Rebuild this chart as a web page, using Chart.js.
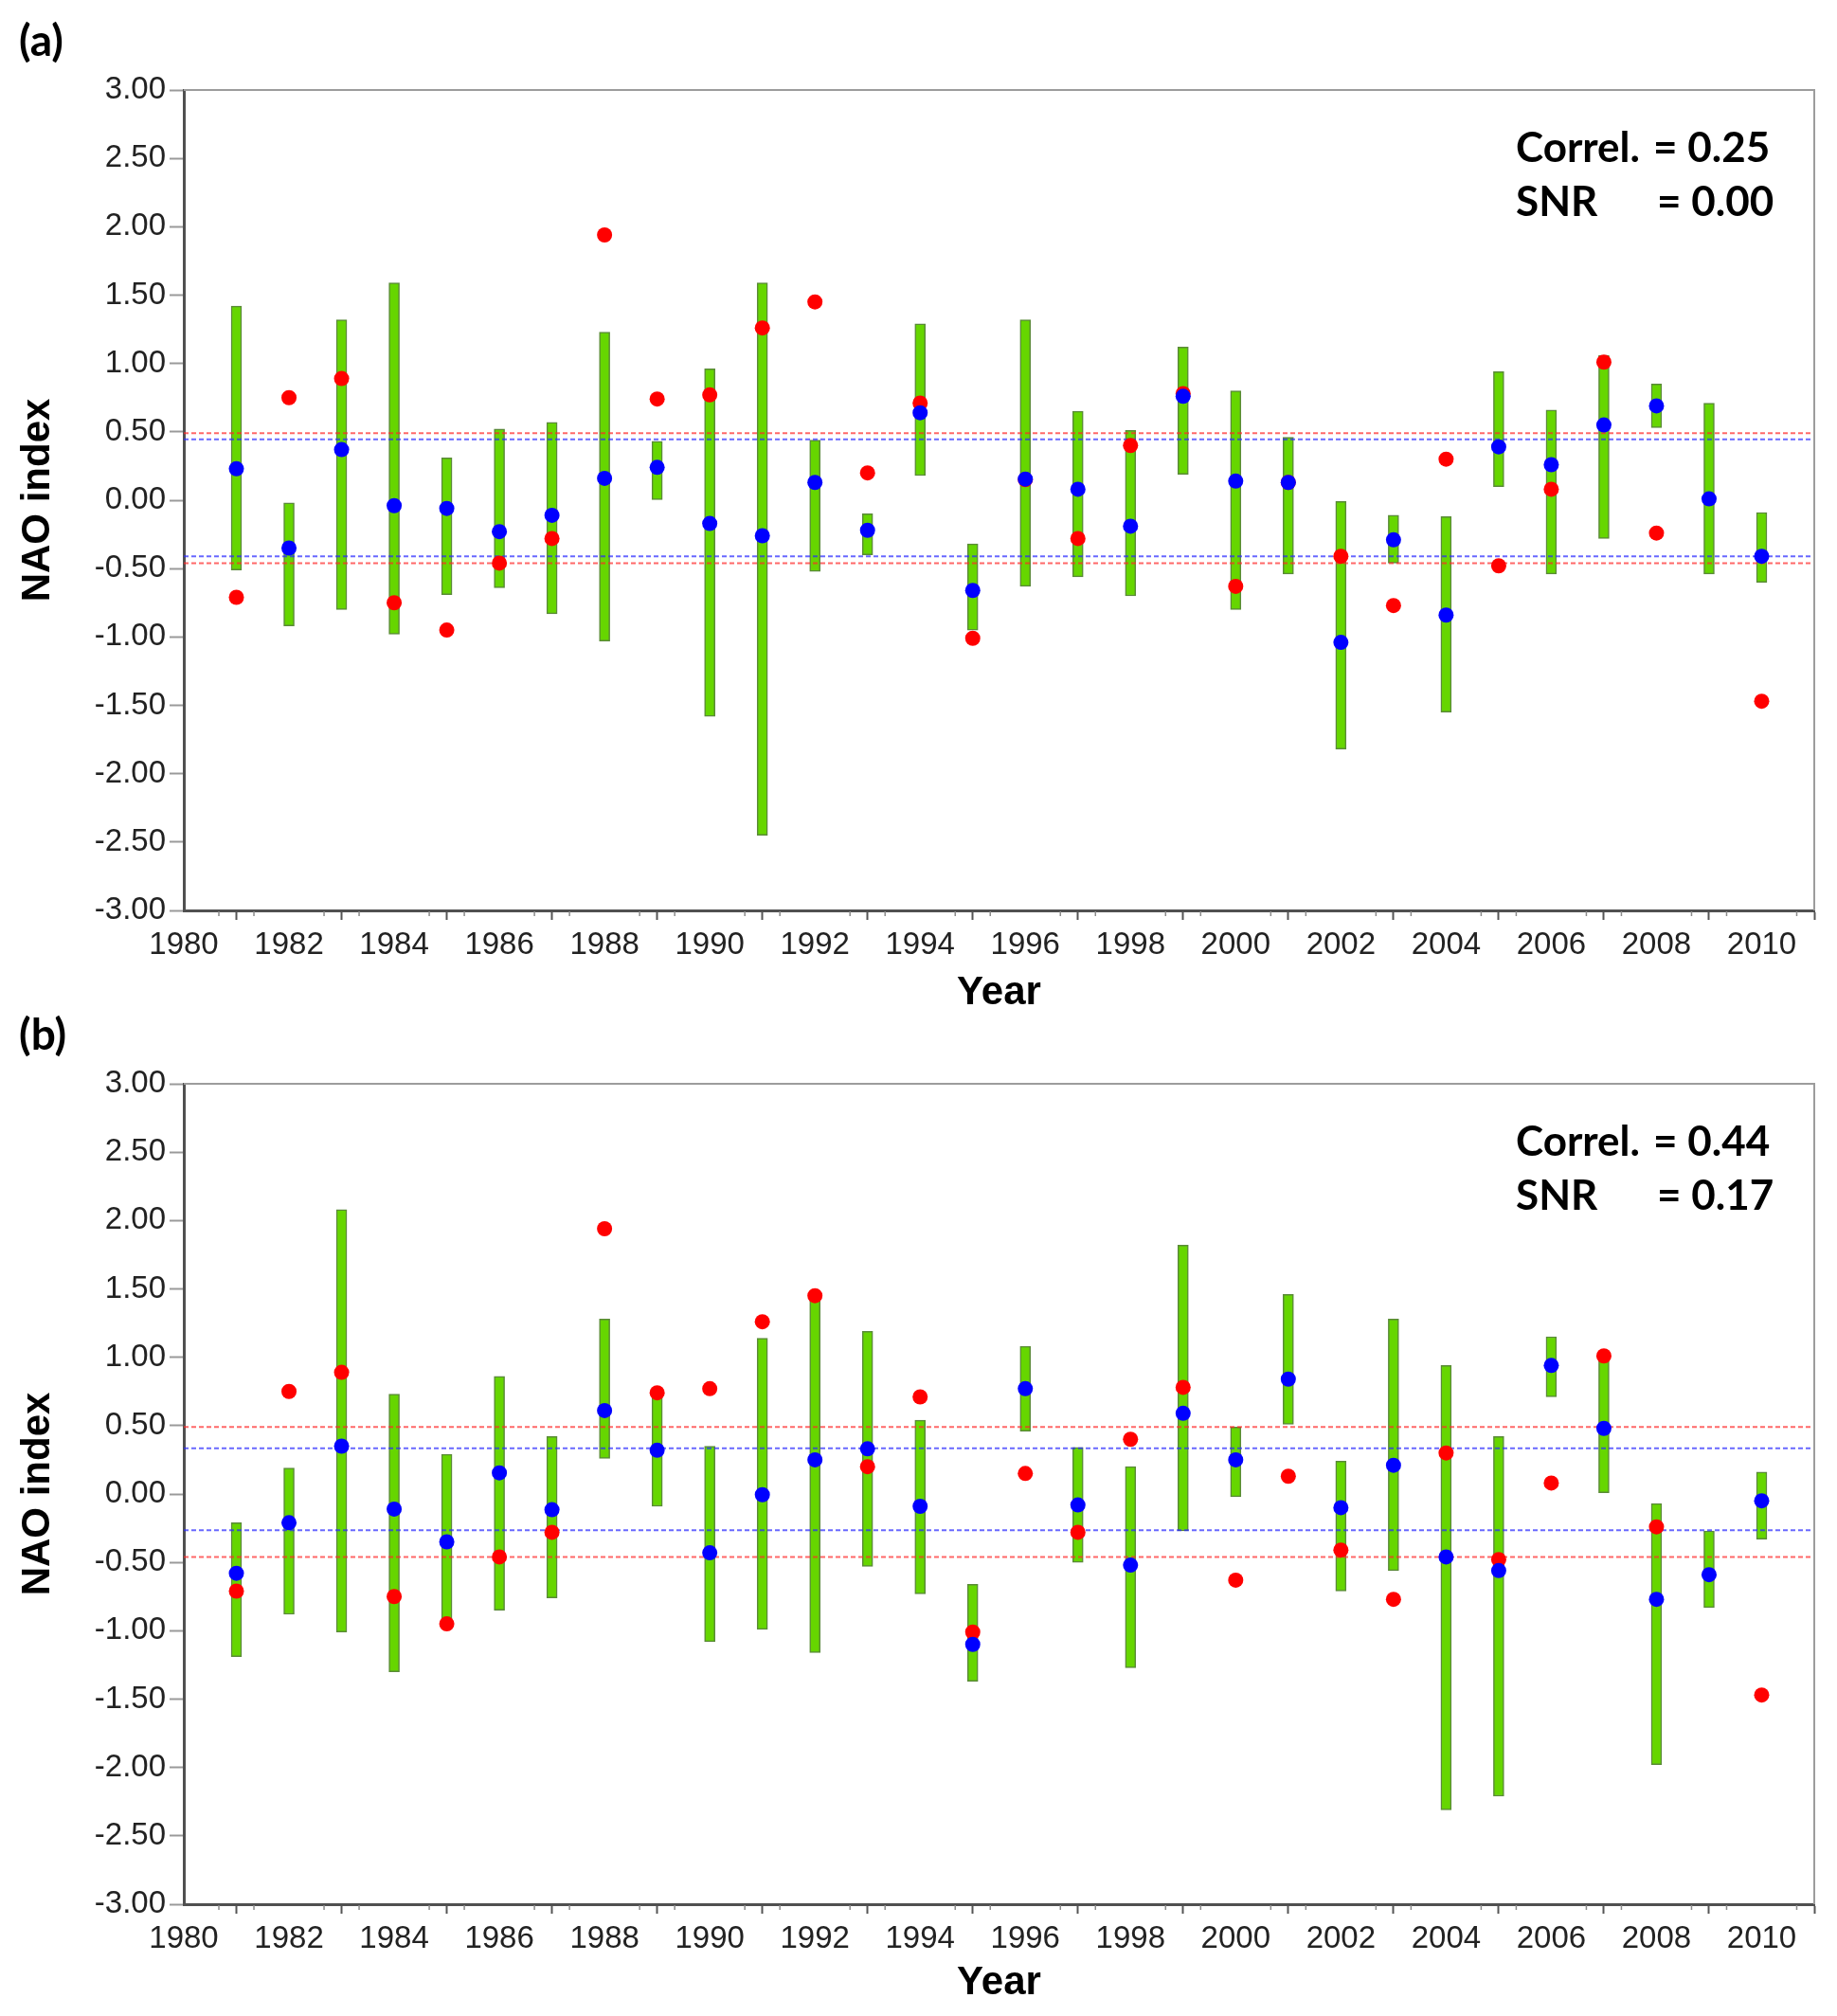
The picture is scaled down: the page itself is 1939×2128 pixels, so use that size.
<!DOCTYPE html>
<html><head><meta charset="utf-8">
<script src="https://cdn.jsdelivr.net/npm/chart.js@4/dist/chart.umd.min.js"></script>
<style>
html,body{margin:0;padding:0;background:#fff;}
body{width:1939px;height:2128px;position:relative;overflow:hidden;}
canvas{position:absolute;left:0;}
#ca{top:0;width:1939px;height:1090px;}
#cb{top:1064px;width:1939px;height:1064px;}
</style></head><body>
<canvas id="ca" width="1939" height="1090"></canvas>
<canvas id="cb" width="1939" height="1064"></canvas>
<script>
// ---- data ----
const years = [1981,1982,1983,1984,1985,1986,1987,1988,1989,1990,1991,1992,1993,1994,1995,1996,1997,1998,1999,2000,2001,2002,2003,2004,2005,2006,2007,2008,2009,2010];
const yTicksFmt = 2;
const X_MIN = 1980, X_MAX = 2011, MINOR_STEP = 2/3;

// observed NAO index (red)
const obsNAO = [-0.71,0.75,0.89,-0.75,-0.95,-0.46,-0.28,1.94,0.74,0.77,1.26,1.45,0.20,0.71,-1.01,0.15,-0.28,0.40,0.78,-0.63,0.13,-0.41,-0.77,0.30,-0.48,0.08,1.01,-0.24,null,-1.47];

// panel (a)
const meanA = [0.23,-0.35,0.37,-0.04,-0.06,-0.23,-0.11,0.16,0.24,-0.17,-0.26,0.13,-0.22,0.64,-0.66,0.155,0.08,-0.19,0.76,0.14,0.13,-1.04,-0.29,-0.84,0.39,0.26,0.55,0.69,0.01,-0.41];
const lowA  = [-0.51,-0.92,-0.80,-0.98,-0.69,-0.64,-0.83,-1.03,0.00,-1.58,-2.45,-0.52,-0.40,0.18,-0.95,-0.63,-0.56,-0.70,0.19,-0.80,-0.54,-1.82,-0.46,-1.55,0.10,-0.54,-0.28,0.53,-0.54,-0.60];
const highA = [1.42,-0.02,1.32,1.59,0.31,0.52,0.57,1.23,0.43,0.96,1.59,0.44,-0.10,1.29,-0.32,1.32,0.65,0.51,1.12,0.80,0.46,-0.01,-0.11,-0.12,0.94,0.66,1.06,0.85,0.71,-0.09];
const obsBandA = [0.49,-0.46];
const modBandA = [0.445,-0.41];

// panel (b)
const meanB = [-0.58,-0.21,0.35,-0.11,-0.35,0.155,-0.115,0.61,0.32,-0.43,-0.005,0.25,0.33,-0.09,-1.10,0.77,-0.08,-0.52,0.59,0.25,0.84,-0.10,0.21,-0.46,-0.56,0.94,0.48,-0.77,-0.59,-0.05];
const lowB  = [-1.19,-0.88,-1.01,-1.30,-0.93,-0.85,-0.76,0.26,-0.09,-1.08,-0.99,-1.16,-0.53,-0.73,-1.37,0.46,-0.50,-1.27,-0.27,-0.02,0.51,-0.71,-0.56,-2.31,-2.21,0.71,0.01,-1.98,-0.83,-0.33];
const highB = [-0.21,0.19,2.08,0.73,0.29,0.86,0.42,1.28,0.72,0.35,1.14,1.42,1.19,0.54,-0.66,1.08,0.34,0.20,1.82,0.49,1.46,0.24,1.28,0.94,0.42,1.15,0.98,-0.07,-0.27,0.16];
const obsBandB = [0.49,-0.46];
const modBandB = [0.335,-0.265];

const statsA = {label:'(a)', correl:'0.25', snr:'0.00'};
const statsB = {label:'(b)', correl:'0.44', snr:'0.17'};

Chart.defaults.font.family = "'Liberation Sans', Arial, sans-serif";

const decor = {
  id:'decor',
  afterDraw(chart, args, opts){
    const {ctx, chartArea:a, scales:{x}} = chart;
    ctx.save();
    ctx.strokeStyle='#9c9c9c'; ctx.lineWidth=2;
    ctx.beginPath(); ctx.moveTo(a.left, a.top); ctx.lineTo(a.right, a.top); ctx.lineTo(a.right, a.bottom); ctx.stroke();
    ctx.strokeStyle='#8a8a8a'; ctx.lineWidth=1.5;
    for (let k=0; ; k++){
      const v = x.min + k*MINOR_STEP;
      if (v > x.max + 1e-9) break;
      if (k%3===0) continue;
      const px = x.getPixelForValue(v);
      ctx.beginPath(); ctx.moveTo(px, a.bottom+1); ctx.lineTo(px, a.bottom+6); ctx.stroke();
    }
    ctx.fillStyle='#000'; ctx.textBaseline='alphabetic'; ctx.textAlign='left';
    ctx.font="bold 46px Lato, 'Open Sans', sans-serif";
    ctx.fillText(opts.label, 20, a.top - 36);
    ctx.font="bold 44px Lato, 'Open Sans', sans-serif";
    ctx.fillText('Correl.', a.right-315, a.top+76);
    ctx.fillText('= '+opts.correl, a.right-170, a.top+76);
    ctx.fillText('SNR', a.right-315, a.top+133);
    ctx.fillText('= '+opts.snr, a.right-166, a.top+133);
    ctx.restore();
  }
};

function hline(v, color){
  return {type:'line', data:[{x:X_MIN,y:v},{x:X_MAX,y:v}], borderColor:color, borderWidth:2, borderDash:[5,3], pointRadius:0, fill:false, order:2};
}

function makeChart(id, mean, lo, hi, obsBand, modBand, stats, padTop, xAxisH, xTitlePad){
  return new Chart(document.getElementById(id), {
    type:'bar',
    data:{datasets:[
      {type:'scatter', label:'Ensemble mean', data: years.map((y,i)=>({x:y, y:mean[i]})), backgroundColor:'#0000ff', borderColor:'#0000ff', borderWidth:0, pointRadius:8, order:0},
      {type:'scatter', label:'Observed', data: years.map((y,i)=>({x:y, y:obsNAO[i]})), backgroundColor:'#ff0000', borderColor:'#ff0000', borderWidth:0, pointRadius:8, order:1},
      hline(obsBand[0], 'rgba(255,40,40,0.7)'),
      hline(obsBand[1], 'rgba(255,40,40,0.7)'),
      hline(modBand[0], 'rgba(40,40,255,0.7)'),
      hline(modBand[1], 'rgba(40,40,255,0.7)'),
      {type:'bar', label:'Ensemble range', data: years.map((y,i)=>({x:y, y:[lo[i], hi[i]]})), backgroundColor:'#66d600', borderColor:'#5a8a38', borderWidth:1.5, borderSkipped:false, barThickness:11, order:5}
    ]},
    options:{
      responsive:false, devicePixelRatio:1, animation:false, events:[],
      layout:{padding:{top:padTop, right:24, left:0, bottom:0}},
      plugins:{legend:{display:false}, tooltip:{enabled:false}, decor:stats},
      scales:{
        x:{type:'linear', min:X_MIN, max:X_MAX, offset:false,
          ticks:{stepSize:2, includeBounds:false, autoSkip:false, maxRotation:0, minRotation:0, font:{size:33}, color:'#222', padding:7, callback:v=>String(v)},
          grid:{drawOnChartArea:false, drawTicks:true, tickLength:10, tickColor:'#555', tickWidth:2},
          border:{display:true, color:'#505050', width:3},
          title:{display:true, text:'Year', color:'#000', font:{size:42, weight:'bold', lineHeight:1}, padding:{top:0, bottom:xTitlePad}},
          afterFit(s){ s.height = xAxisH; }
        },
        y:{min:-3, max:3,
          ticks:{stepSize:0.5, font:{size:33}, color:'#222', padding:4, callback:v=>Number(v).toFixed(yTicksFmt)},
          grid:{drawOnChartArea:false, tickLength:15, tickColor:'#9a9a9a', tickWidth:2},
          border:{display:true, color:'#505050', width:3},
          title:{display:true, text:'NAO index', color:'#000', font:{size:42, weight:'bold', lineHeight:1.2}, padding:{top:15, bottom:0}},
          afterFit(s){ s.width = 194; }
        }
      }
    },
    plugins:[decor]
  });
}

makeChart('ca', meanA, lowA, highA, obsBandA, modBandA, statsA, 95, 129, 21);
makeChart('cb', meanB, lowB, highB, obsBandB, modBandB, statsB, 80, 118, 14);
</script>
</body></html>
